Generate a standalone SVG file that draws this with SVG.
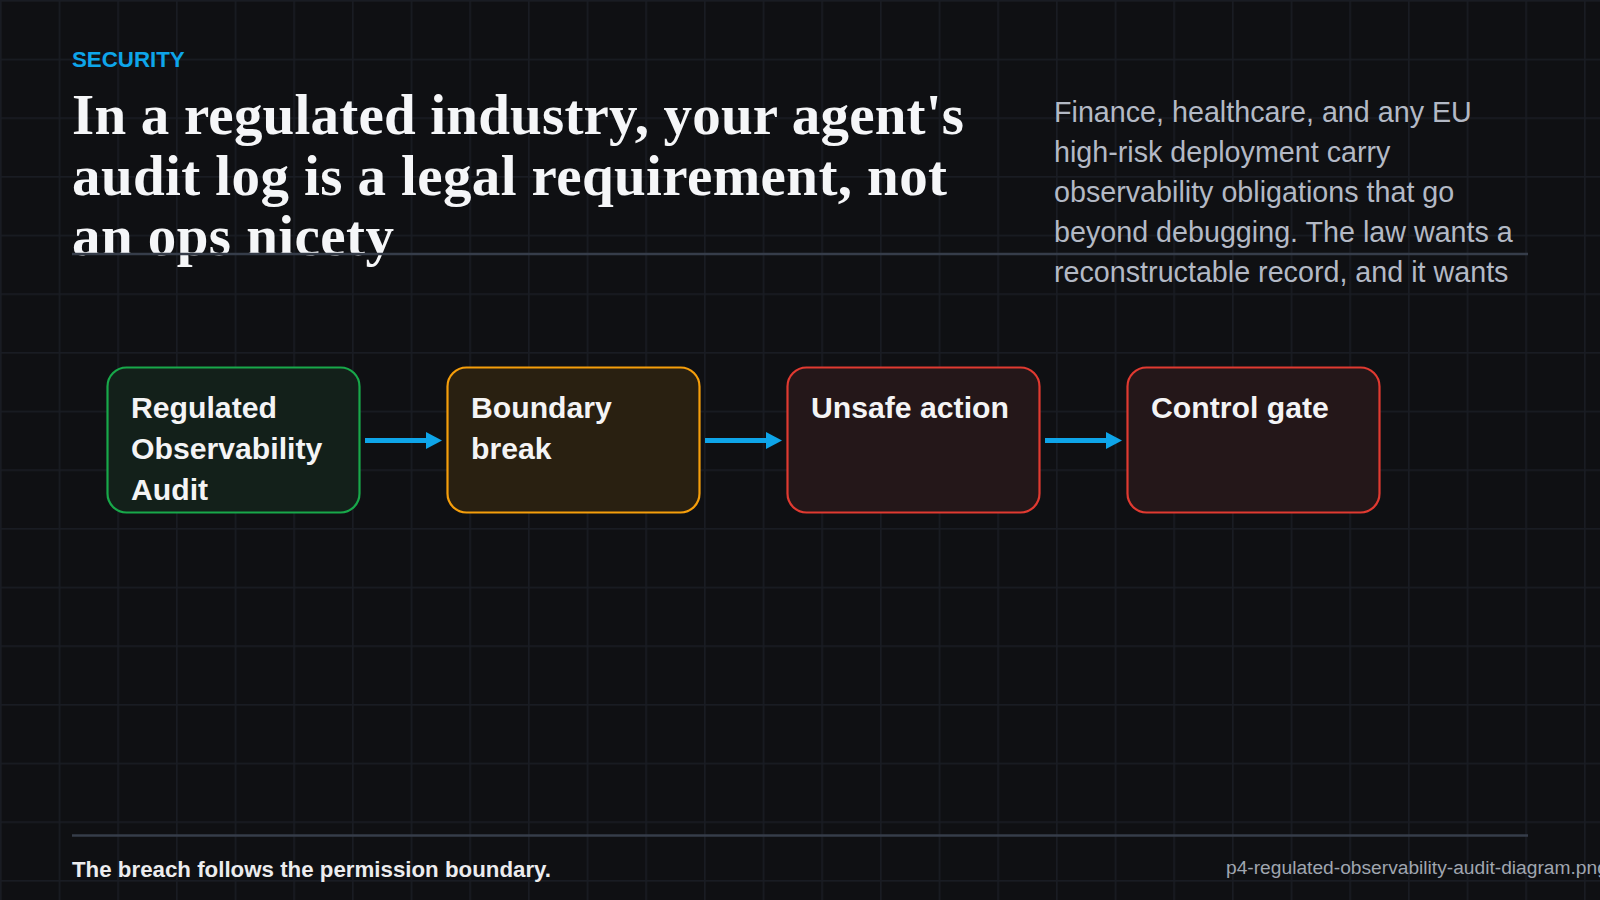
<svg xmlns="http://www.w3.org/2000/svg" width="1600" height="900" viewBox="0 0 1600 900">
  <defs>
    <pattern id="grid" patternUnits="userSpaceOnUse" x="0" y="0" width="58.667" height="58.667">
      <rect x="0" y="0" width="1.6" height="58.667" fill="#191c23"/>
      <rect x="0" y="0" width="58.667" height="1.6" fill="#191c23"/>
    </pattern>
    <marker id="arrow" viewBox="0 0 16 17" markerWidth="16" markerHeight="17" refX="0" refY="8.5" markerUnits="userSpaceOnUse" orient="auto">
      <path d="M0,0 L16,8.5 L0,17 Z" fill="#0ea5e9"/>
    </marker>
    <style>
      .kicker { font-family: "Liberation Sans", Arial, sans-serif; font-weight: 700; font-size: 22.3px; fill: #0ea5e9; }
      .title { font-family: "Liberation Serif", "Times New Roman", serif; font-weight: 700; font-size: 57px; fill: #f5f6f8; }
      .lede { font-family: "Liberation Sans", Arial, sans-serif; font-size: 28.7px; fill: #b3b9c5; }
      .rule { stroke: #363d4a; stroke-width: 2.6; }
      .node rect { stroke-width: 2.2; }
      .label { font-family: "Liberation Sans", Arial, sans-serif; font-weight: 700; font-size: 30.2px; fill: #f4f4f5; }
      .edge { stroke: #0ea5e9; stroke-width: 5; fill: none; }
      .footer { font-family: "Liberation Sans", Arial, sans-serif; font-weight: 700; font-size: 22.3px; fill: #ececee; }
      .file { font-family: "Liberation Sans", Arial, sans-serif; font-size: 19.2px; fill: #a0a6b0; }
    </style>
  </defs>

  <rect width="1600" height="900" fill="#0f1013"/>
  <rect width="1600" height="900" fill="url(#grid)"/>

  <text class="kicker" x="72" y="67">SECURITY</text>

  <g id="title">
    <text class="title" x="72" y="134" textLength="892">In a regulated industry, your agent's</text>
    <text class="title" x="72" y="195" textLength="875">audit log is a legal requirement, not</text>
    <text class="title" x="72" y="255" textLength="322">an ops nicety</text>
  </g>

  <g id="lede">
    <text class="lede" x="1054" y="122">Finance, healthcare, and any EU</text>
    <text class="lede" x="1054" y="162">high-risk deployment carry</text>
    <text class="lede" x="1054" y="202">observability obligations that go</text>
    <text class="lede" x="1054" y="242">beyond debugging. The law wants a</text>
    <text class="lede" x="1054" y="282">reconstructable record, and it wants</text>
  </g>

  <line class="rule" x1="72" y1="254" x2="1528" y2="254"/>

  <g id="connectors">
    <line class="edge" x1="365" y1="440.5" x2="426" y2="440.5" marker-end="url(#arrow)"/>
    <line class="edge" x1="705" y1="440.5" x2="766" y2="440.5" marker-end="url(#arrow)"/>
    <line class="edge" x1="1045" y1="440.5" x2="1106" y2="440.5" marker-end="url(#arrow)"/>
  </g>

  <g id="node-regulated-observability-audit" class="node">
    <rect x="107.5" y="367.5" width="252" height="145" rx="19" fill="#13201a" stroke="#18a84a"/>
    <text class="label" x="131" y="418">Regulated</text>
    <text class="label" x="131" y="459">Observability</text>
    <text class="label" x="131" y="500">Audit</text>
  </g>

  <g id="node-boundary-break" class="node">
    <rect x="447.5" y="367.5" width="252" height="145" rx="19" fill="#292011" stroke="#f59e0b"/>
    <text class="label" x="471" y="418">Boundary</text>
    <text class="label" x="471" y="459">break</text>
  </g>

  <g id="node-unsafe-action" class="node">
    <rect x="787.5" y="367.5" width="252" height="145" rx="19" fill="#241719" stroke="#e03a31"/>
    <text class="label" x="811" y="418">Unsafe action</text>
  </g>

  <g id="node-control-gate" class="node">
    <rect x="1127.5" y="367.5" width="252" height="145" rx="19" fill="#241719" stroke="#e03a31"/>
    <text class="label" x="1151" y="418">Control gate</text>
  </g>

  <line class="rule" x1="72" y1="835.5" x2="1528" y2="835.5"/>
  <text class="footer" x="72" y="877">The breach follows the permission boundary.</text>
  <text class="file" x="1226" y="874">p4-regulated-observability-audit-diagram.png</text>
</svg>
